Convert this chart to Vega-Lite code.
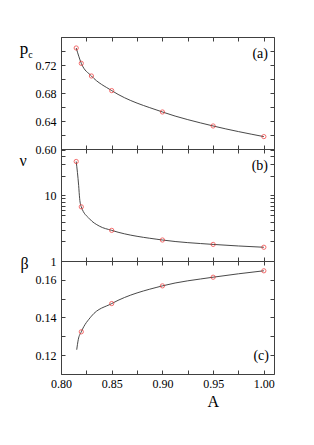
{
  "$schema": "https://vega.github.io/schema/vega-lite/v6.json",
  "padding": {"left": 18, "top": 30, "right": 41, "bottom": 40},
  "spacing": 0,
  "bounds": "flush",
  "config": {
    "font": "Times New Roman, Liberation Serif, serif",
    "view": {"stroke": "#404040", "strokeWidth": 1},
    "axis": {
      "domain": false,
      "grid": false,
      "tickSize": -4,
      "tickColor": "#404040",
      "tickWidth": 1,
      "labelFont": "Times New Roman, Liberation Serif, serif",
      "labelFontSize": 12,
      "labelColor": "#000000",
      "labelPadding": 9,
      "labelFlush": false,
      "labelOverlap": false,
      "labelBound": false,
      "titleFont": "Times New Roman, Liberation Serif, serif",
      "titleFontWeight": "normal",
      "titleColor": "#000000"
    },
    "text": {"font": "Times New Roman, Liberation Serif, serif"}
  },
  "datasets": {
    "pcPts": [
      {"A": 0.815, "pc": 0.7443},
      {"A": 0.82, "pc": 0.7224},
      {"A": 0.83, "pc": 0.7043},
      {"A": 0.85, "pc": 0.6834},
      {"A": 0.90, "pc": 0.6529},
      {"A": 0.95, "pc": 0.6329},
      {"A": 1.00, "pc": 0.6177}
    ],
    "nuPts": [
      {"A": 0.815, "nu": 32.9},
      {"A": 0.82, "nu": 6.7},
      {"A": 0.85, "nu": 2.93},
      {"A": 0.90, "nu": 2.09},
      {"A": 0.95, "nu": 1.79},
      {"A": 1.00, "nu": 1.62}
    ],
    "nuCurve": [
      {"A": 0.815, "nu": 32.9},
      {"A": 0.8174, "nu": 14.2},
      {"A": 0.8184, "nu": 8.9},
      {"A": 0.82, "nu": 6.7},
      {"A": 0.828, "nu": 4.41},
      {"A": 0.8377, "nu": 3.41},
      {"A": 0.85, "nu": 2.93},
      {"A": 0.90, "nu": 2.09},
      {"A": 0.95, "nu": 1.79},
      {"A": 1.00, "nu": 1.62}
    ],
    "betaPts": [
      {"A": 0.82, "beta": 0.1324},
      {"A": 0.85, "beta": 0.1474},
      {"A": 0.90, "beta": 0.1568},
      {"A": 0.95, "beta": 0.1614},
      {"A": 1.00, "beta": 0.1648}
    ],
    "betaCurve": [
      {"A": 0.8155, "beta": 0.1229},
      {"A": 0.817, "beta": 0.1282},
      {"A": 0.82, "beta": 0.1324},
      {"A": 0.83, "beta": 0.1407},
      {"A": 0.85, "beta": 0.1474},
      {"A": 0.90, "beta": 0.1568},
      {"A": 0.95, "beta": 0.1614},
      {"A": 1.00, "beta": 0.1648}
    ]
  },
  "vconcat": [
    {
      "width": 213,
      "height": 112,
      "layer": [
        {
          "data": {"name": "pcPts"},
          "mark": {"type": "line", "interpolate": "monotone", "color": "#333333", "strokeWidth": 0.9},
          "encoding": {
            "x": {"field": "A", "type": "quantitative", "scale": {"domain": [0.8, 1.01], "nice": false, "zero": false},
              "axis": {"orient": "bottom", "values": [0.8, 0.825, 0.85, 0.875, 0.9, 0.925, 0.95, 0.975, 1.0], "labels": false, "title": null}},
            "y": {"field": "pc", "type": "quantitative", "scale": {"domain": [0.6, 0.76], "nice": false, "zero": false},
              "axis": {"orient": "left", "values": [0.6, 0.62, 0.64, 0.66, 0.68, 0.7, 0.72, 0.74, 0.76],
                "labelExpr": "(round(datum.value*100) % 4 == 0) && datum.value < 0.75 ? format(datum.value, '.2f') : ''",
                "title": "p", "titleAngle": 0, "titleX": -37.5, "titleY": 16, "titleAlign": "center", "titleBaseline": "alphabetic", "titleFontSize": 17}}
          }
        },
        {
          "data": {"name": "pcPts"},
          "mark": {"type": "point", "shape": "circle", "filled": false, "color": "#f03030", "size": 18, "strokeWidth": 1},
          "encoding": {
            "x": {"field": "A", "type": "quantitative",
              "axis": {"orient": "top", "values": [0.8, 0.825, 0.85, 0.875, 0.9, 0.925, 0.95, 0.975, 1.0], "labels": false, "title": null}},
            "y": {"field": "pc", "type": "quantitative",
              "axis": {"orient": "right", "values": [0.6, 0.62, 0.64, 0.66, 0.68, 0.7, 0.72, 0.74, 0.76], "labels": false, "title": null}}
          }
        },
        {
          "data": {"values": [{}]},
          "mark": {"type": "text", "align": "right", "baseline": "alphabetic", "dx": -6, "dy": 21, "fontSize": 14, "color": "#000000"},
          "encoding": {
            "x": {"datum": 1.01, "type": "quantitative", "axis": null},
            "y": {"datum": 0.76, "type": "quantitative", "axis": null},
            "text": {"value": "(a)"}
          }
        },
        {
          "data": {"values": [{}]},
          "mark": {"type": "text", "align": "center", "baseline": "alphabetic", "dx": -30.5, "dy": 20.7, "fontSize": 10, "color": "#000000"},
          "encoding": {
            "x": {"datum": 0.8, "type": "quantitative", "axis": null},
            "y": {"datum": 0.76, "type": "quantitative", "axis": null},
            "text": {"value": "c"}
          }
        }
      ],
      "resolve": {"axis": {"x": "independent", "y": "independent"}}
    },
    {
      "width": 213,
      "height": 112,
      "layer": [
        {
          "data": {"name": "nuCurve"},
          "mark": {"type": "line", "interpolate": "monotone", "color": "#333333", "strokeWidth": 0.9},
          "encoding": {
            "x": {"field": "A", "type": "quantitative", "scale": {"domain": [0.8, 1.01], "nice": false, "zero": false},
              "axis": {"orient": "bottom", "values": [0.8, 0.825, 0.85, 0.875, 0.9, 0.925, 0.95, 0.975, 1.0], "labels": false, "title": null}},
            "y": {"field": "nu", "type": "quantitative", "scale": {"type": "log", "domain": [1, 51], "nice": false},
              "axis": {"orient": "left", "values": [1, 2, 3, 4, 5, 6, 7, 8, 9, 10, 20, 30, 40, 50],
                "labelExpr": "datum.value == 1 ? '1' : (datum.value == 10 ? '10' : '')",
                "title": "ν", "titleAngle": 0, "titleX": -38.3, "titleY": 16.6, "titleAlign": "center", "titleBaseline": "alphabetic", "titleFontSize": 16}}
          }
        },
        {
          "data": {"name": "nuPts"},
          "mark": {"type": "point", "shape": "circle", "filled": false, "color": "#f03030", "size": 18, "strokeWidth": 1},
          "encoding": {
            "x": {"field": "A", "type": "quantitative",
              "axis": {"orient": "top", "values": [0.8, 0.825, 0.85, 0.875, 0.9, 0.925, 0.95, 0.975, 1.0], "labels": false, "title": null}},
            "y": {"field": "nu", "type": "quantitative",
              "axis": {"orient": "right", "values": [1, 2, 3, 4, 5, 6, 7, 8, 9, 10, 20, 30, 40, 50], "labels": false, "title": null}}
          }
        },
        {
          "data": {"values": [{}]},
          "mark": {"type": "text", "align": "right", "baseline": "alphabetic", "dx": -6, "dy": 21, "fontSize": 14, "color": "#000000"},
          "encoding": {
            "x": {"datum": 1.01, "type": "quantitative", "axis": null},
            "y": {"datum": 51, "type": "quantitative", "axis": null},
            "text": {"value": "(b)"}
          }
        }
      ],
      "resolve": {"axis": {"x": "independent", "y": "independent"}}
    },
    {
      "width": 213,
      "height": 113,
      "layer": [
        {
          "data": {"name": "betaCurve"},
          "mark": {"type": "line", "interpolate": "monotone", "color": "#333333", "strokeWidth": 0.9},
          "encoding": {
            "x": {"field": "A", "type": "quantitative", "scale": {"domain": [0.8, 1.01], "nice": false, "zero": false},
              "axis": {"orient": "bottom", "values": [0.8, 0.825, 0.85, 0.875, 0.9, 0.925, 0.95, 0.975, 1.0],
                "labelExpr": "round(datum.value*1000) % 50 == 0 ? format(datum.value, '.2f') : ''",
                "labelPadding": 8,
                "title": "A", "titleX": 151.7, "titleY": 32.3, "titleAlign": "center", "titleBaseline": "alphabetic", "titleFontSize": 16}},
            "y": {"field": "beta", "type": "quantitative", "scale": {"domain": [0.11, 0.17], "nice": false, "zero": false},
              "axis": {"orient": "left", "values": [0.11, 0.12, 0.13, 0.14, 0.15, 0.16, 0.17],
                "labelExpr": "round(datum.value*100) % 2 == 0 ? format(datum.value, '.2f') : ''",
                "title": "β", "titleAngle": 0, "titleX": -37, "titleY": 7, "titleAlign": "center", "titleBaseline": "alphabetic", "titleFontSize": 16}}
          }
        },
        {
          "data": {"name": "betaPts"},
          "mark": {"type": "point", "shape": "circle", "filled": false, "color": "#f03030", "size": 18, "strokeWidth": 1},
          "encoding": {
            "x": {"field": "A", "type": "quantitative",
              "axis": {"orient": "top", "values": [0.8, 0.825, 0.85, 0.875, 0.9, 0.925, 0.95, 0.975, 1.0], "labels": false, "title": null}},
            "y": {"field": "beta", "type": "quantitative",
              "axis": {"orient": "right", "values": [0.11, 0.12, 0.13, 0.14, 0.15, 0.16, 0.17], "labels": false, "title": null}}
          }
        },
        {
          "data": {"values": [{}]},
          "mark": {"type": "text", "align": "right", "baseline": "alphabetic", "dx": -5, "dy": -14, "fontSize": 14, "color": "#000000"},
          "encoding": {
            "x": {"datum": 1.01, "type": "quantitative", "axis": null},
            "y": {"datum": 0.11, "type": "quantitative", "axis": null},
            "text": {"value": "(c)"}
          }
        }
      ],
      "resolve": {"axis": {"x": "independent", "y": "independent"}}
    }
  ]
}
